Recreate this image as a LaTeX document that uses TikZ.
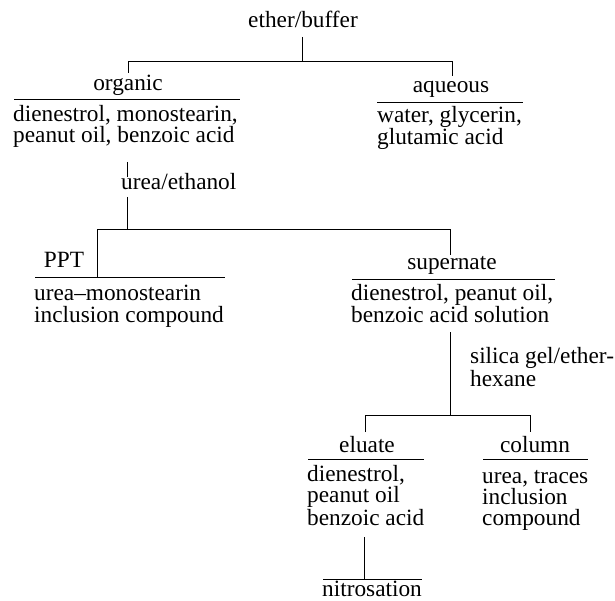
\documentclass[tikz,border=0pt]{standalone}
\usepackage{fontspec}
\setmainfont{Liberation Serif}
\begin{document}
\begin{tikzpicture}[x=1pt,y=-1pt,
  lbl/.style={inner sep=0pt,anchor=base,font=\fontsize{23.3}{21}\selectfont},
  txt/.style={inner sep=0pt,anchor=base west,align=left,font=\fontsize{23.3}{21}\selectfont},
  ln/.style={line width=0.8pt}]
\useasboundingbox (0,0) rectangle (615,601);
% texts (multi-line nodes are anchored at the baseline of their last line)
\node[lbl] (ether) at (303,28) {ether/buffer};
\node[lbl] (organic) at (128,91) {organic};
\node[txt] (orgtxt) at (13,143) {dienestrol, monostearin,\\peanut oil, benzoic acid};
\node[lbl] (aqueous) at (451,93) {aqueous};
\node[txt] (aqtxt) at (377,145) {water, glycerin,\\glutamic acid};
\node[txt] (urea) at (121,190) {urea/ethanol};
\node[lbl] (ppt) at (64,268) {PPT};
\node[txt] (ppttxt) at (34,322) {urea--monostearin\\inclusion compound};
\node[lbl] (super) at (452,270) {supernate};
\node[txt] (suptxt) at (351,323) {dienestrol, peanut oil,\\benzoic acid solution};
\node[txt,font=\fontsize{23.3}{19.5}\selectfont] (silica) at (470,386) {silica gel/ether-\\hexane};
\node[lbl] (eluate) at (367,452) {eluate};
\node[txt] (elutxt) at (307,525) {dienestrol,\\peanut oil\\benzoic acid};
\node[lbl] (column) at (535,452) {column};
\node[txt] (coltxt) at (482,525) {urea, traces\\inclusion\\compound};
\node[lbl] (nitro) at (372,596) {nitrosation};
% coordinates
\coordinate (e0) at (302,37);
\coordinate (e1) at (302,61);
\coordinate (oL) at (128,61);
\coordinate (oB) at (128,73);
\coordinate (aR) at (452,61);
\coordinate (aB) at (452,76);
\coordinate (oul1) at (14,99);
\coordinate (oul2) at (240,99);
\coordinate (aul1) at (377,102);
\coordinate (aul2) at (523,102);
\coordinate (u0) at (127,162);
\coordinate (u1) at (127,177);
\coordinate (u2) at (127,197);
\coordinate (u3) at (127,229);
\coordinate (pL) at (97,229);
\coordinate (pB) at (97,277);
\coordinate (sR) at (450,229);
\coordinate (sB) at (450,255);
\coordinate (pul1) at (35,277);
\coordinate (pul2) at (225,277);
\coordinate (sul1) at (352,279);
\coordinate (sul2) at (555,279);
\coordinate (s0) at (450,332);
\coordinate (s1) at (450,415);
\coordinate (eL) at (365,415);
\coordinate (eB) at (365,432);
\coordinate (cR) at (530,415);
\coordinate (cB) at (530,432);
\coordinate (eul1) at (308,459);
\coordinate (eul2) at (424,459);
\coordinate (cul1) at (483,459);
\coordinate (cul2) at (588,459);
\coordinate (n0) at (364,537);
\coordinate (n1) at (364,579);
\coordinate (nul1) at (323,579);
\coordinate (nul2) at (422,579);
% lines
\draw[ln] (e0) -- (e1);
\draw[ln] (oB) -- (oL) -- (aR) -- (aB);
\draw[ln] (oul1) -- (oul2);
\draw[ln] (aul1) -- (aul2);
\draw[ln] (u0) -- (u1);
\draw[ln] (u2) -- (u3);
\draw[ln] (pB) -- (pL) -- (sR) -- (sB);
\draw[ln] (pul1) -- (pul2);
\draw[ln] (sul1) -- (sul2);
\draw[ln] (s0) -- (s1);
\draw[ln] (eB) -- (eL) -- (cR) -- (cB);
\draw[ln] (eul1) -- (eul2);
\draw[ln] (cul1) -- (cul2);
\draw[ln] (n0) -- (n1);
\draw[ln] (nul1) -- (nul2);
\end{tikzpicture}
\end{document}
